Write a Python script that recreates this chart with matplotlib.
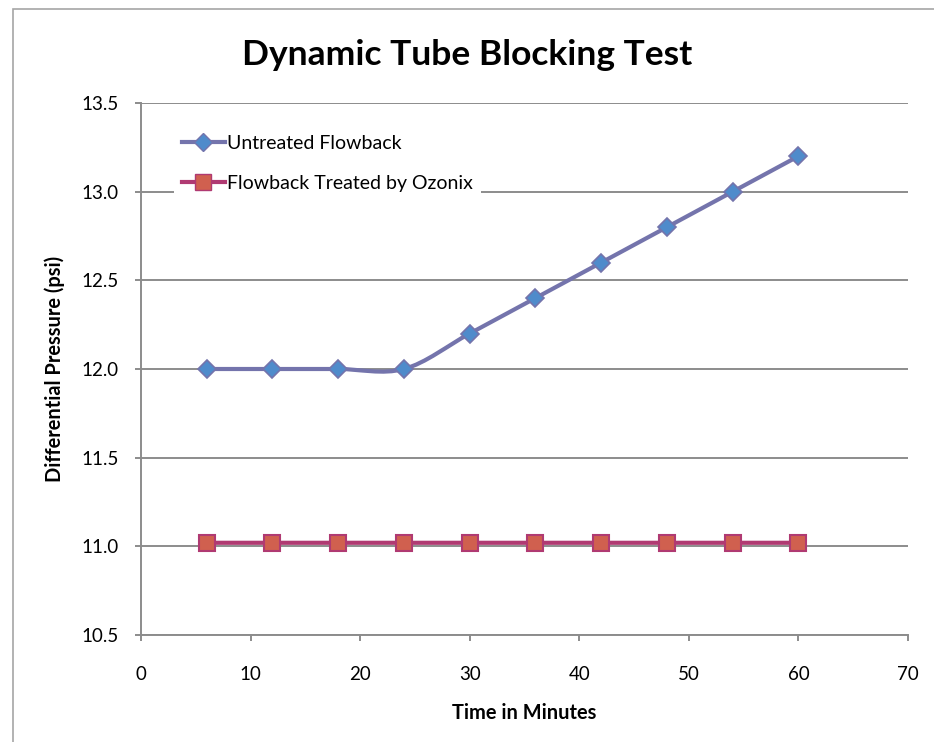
import numpy as np
import matplotlib.pyplot as plt
from matplotlib.path import Path
from matplotlib.patches import PathPatch, Rectangle
from matplotlib.lines import Line2D

plt.rcParams['font.family'] = ['Lato', 'DejaVu Sans']

minutes = [6, 12, 18, 24, 30, 36, 42, 48, 54, 60]
untreated = [12.0, 12.0, 12.0, 12.0, 12.2, 12.4, 12.6, 12.8, 13.0, 13.2]
treated = [11.02] * 10

untreated_line = '#7474AC'
untreated_fill = '#4F8BCB'
treated_line = '#B03A72'
treated_fill = '#D0604F'


def smooth_path(x, y):
    # excel style smoothed line: cubic bezier through every point
    pts = np.column_stack([x, y]).astype(float)
    verts = [pts[0]]
    codes = [Path.MOVETO]
    n = len(pts)
    for i in range(n - 1):
        p0 = pts[max(i - 1, 0)]
        p1 = pts[i]
        p2 = pts[i + 1]
        p3 = pts[min(i + 2, n - 1)]
        c1 = p1 + (p2 - p0) / 6
        c2 = p2 - (p3 - p1) / 6
        verts += [c1, c2, p2]
        codes += [Path.CURVE4] * 3
    return Path(verts, codes)


fig = plt.figure(figsize=(9.34, 7.42), dpi=100)
fig.patches.append(Rectangle((13 / 934, -0.1), 1.2, 0.1 + (742 - 9) / 742,
                             transform=fig.transFigure, fill=False,
                             edgecolor='#A6A6A6', linewidth=1.2))
ax = fig.add_axes([141 / 934, 1 - 635 / 742, (908 - 141) / 934, (635 - 103) / 742])

ax.set_xlim(0, 70)
ax.set_ylim(10.5, 13.5)
ax.set_xticks(range(0, 71, 10))
ax.set_yticks(np.arange(10.5, 13.51, 0.5))
ax.set_yticklabels([f'{v:.1f}' for v in np.arange(10.5, 13.51, 0.5)])
ax.grid(axis='y', color='#8C8C8C', linewidth=1.4, zorder=0)
ax.set_axisbelow(True)
for s in ['top', 'right']:
    ax.spines[s].set_visible(False)
for s in ['left', 'bottom']:
    ax.spines[s].set_color('#8C8C8C')
    ax.spines[s].set_linewidth(1.4)
ax.tick_params(colors='#8C8C8C', width=1.4, length=4, labelcolor='black', labelsize=13.5)
ax.tick_params(axis='x', pad=18)
ax.tick_params(axis='y', pad=12)

ax.add_patch(PathPatch(smooth_path(minutes, untreated), fill=False,
                       edgecolor=untreated_line, linewidth=3, zorder=3))
ax.add_patch(PathPatch(smooth_path(minutes, treated), fill=False,
                       edgecolor=treated_line, linewidth=3, zorder=3))
ax.plot(minutes, untreated, linestyle='none', marker='D', markersize=9,
        markerfacecolor=untreated_fill, markeredgecolor=untreated_line,
        markeredgewidth=1.2, zorder=4)
ax.plot(minutes, treated, linestyle='none', marker='s', markersize=12,
        markerfacecolor=treated_fill, markeredgecolor=treated_line,
        markeredgewidth=1.5, zorder=4)

handles = [
    Line2D([], [], color=untreated_line, linewidth=3, marker='D', markersize=9,
           markerfacecolor=untreated_fill, markeredgecolor=untreated_line),
    Line2D([], [], color=treated_line, linewidth=3, marker='s', markersize=12,
           markerfacecolor=treated_fill, markeredgecolor=treated_line),
]
leg = ax.legend(handles, ['Untreated Flowback', 'Flowback Treated by Ozonix'],
                loc='upper left', bbox_to_anchor=(0.043, 0.955), frameon=True,
                fontsize=14, handlelength=2.2, handletextpad=0.15,
                labelspacing=1.2, borderpad=0.4, borderaxespad=0)
leg.get_frame().set_edgecolor('none')
leg.get_frame().set_facecolor('white')
leg.get_frame().set_alpha(1)
leg.get_frame().set_boxstyle('square', pad=0)

fig.text(0.5, 1 - 55 / 742, 'Dynamic Tube Blocking Test', ha='center', va='center',
         fontsize=25.5, fontweight='bold')
ax.set_xlabel('Time in Minutes', fontsize=14.4, fontweight='bold', va='center')
ax.set_ylabel('Differential Pressure (psi)', fontsize=14.4, fontweight='bold', va='center')
ax.xaxis.set_label_coords(0.5, (635 - 713) / 532)
ax.yaxis.set_label_coords((55 - 141) / 767, 0.5)

fig.savefig('out.png', dpi=100)
